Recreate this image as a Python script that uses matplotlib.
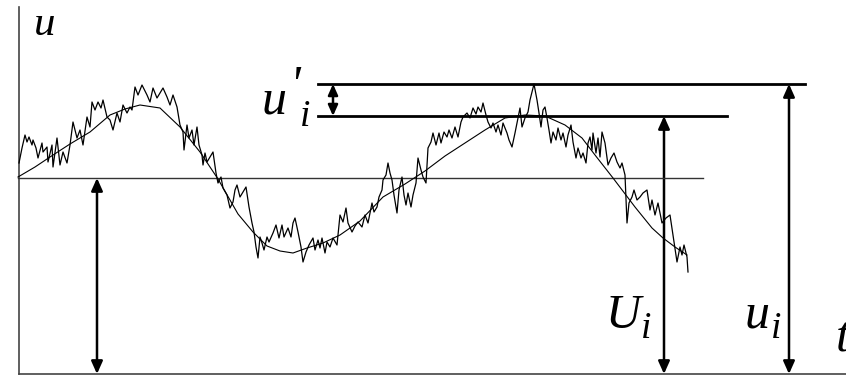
import matplotlib.pyplot as plt
from matplotlib.patches import FancyArrowPatch

# instantaneous velocity u(t) (screen units, y grows downward)
t_inst = [19, 22, 25, 27, 29, 32, 33, 36, 38, 42, 43, 47, 48, 52, 53, 57, 60, 63, 67, 70,
          73, 77, 80, 83, 87, 90, 92, 95, 98, 101, 103, 107, 110, 113, 117, 120, 123, 127, 130, 132,
          135, 138, 142, 147, 150, 153, 157, 160, 163, 167, 170, 173, 177, 180, 183, 184, 187, 189, 192, 194,
          197, 199, 202, 203, 205, 207, 210, 213, 216, 218, 221, 223, 227, 230, 233, 235, 237, 240, 243, 246,
          249, 252, 254, 256, 258, 260, 262, 264, 267, 269, 273, 276, 279, 282, 284, 288, 291, 293, 295, 298,
          301, 303, 306, 309, 313, 315, 318, 320, 322, 325, 327, 330, 333, 337, 338, 340, 343, 346, 348, 352,
          355, 358, 362, 365, 368, 372, 374, 377, 379, 382, 383, 386, 388, 390, 392, 394, 397, 399, 402, 404,
          406, 408, 411, 413, 416, 418, 421, 423, 426, 428, 431, 433, 436, 439, 441, 444, 447, 449, 452, 455,
          458, 461, 463, 467, 470, 473, 476, 478, 481, 483, 486, 488, 491, 493, 496, 498, 501, 503, 507, 509,
          512, 515, 518, 520, 522, 525, 528, 530, 532, 534, 537, 539, 541, 543, 545, 547, 549, 551, 553, 556,
          558, 561, 563, 566, 568, 571, 573, 576, 578, 581, 583, 586, 588, 590, 592, 593, 596, 598, 600, 602,
          605, 608, 611, 614, 617, 620, 622, 625, 627, 629, 632, 634, 637, 640, 643, 647, 650, 652, 655, 658,
          660, 662, 666, 670, 673, 677, 680, 682, 684, 687, 688]
u_inst = [163, 148, 135, 142, 137, 145, 140, 148, 158, 143, 152, 147, 162, 145, 167, 138, 165, 152, 163, 145,
          122, 138, 130, 145, 117, 127, 102, 110, 102, 108, 100, 117, 120, 130, 113, 122, 105, 113, 107, 110,
          87, 95, 85, 95, 102, 88, 98, 93, 88, 97, 105, 95, 107, 125, 132, 150, 125, 138, 130, 145,
          127, 145, 155, 165, 153, 162, 157, 152, 173, 183, 177, 188, 195, 208, 202, 190, 185, 197, 192, 187,
          207, 223, 232, 247, 258, 237, 243, 250, 237, 242, 233, 225, 238, 225, 237, 228, 237, 223, 218, 232,
          247, 262, 252, 245, 238, 250, 240, 248, 238, 253, 242, 247, 238, 245, 235, 215, 222, 208, 223, 232,
          226, 222, 227, 215, 223, 203, 212, 207, 197, 190, 180, 175, 163, 173, 180, 195, 213, 190, 177, 195,
          205, 193, 207, 195, 183, 158, 170, 177, 183, 148, 142, 133, 145, 133, 143, 132, 137, 130, 138, 127,
          137, 122, 117, 113, 118, 108, 114, 107, 112, 103, 115, 122, 128, 123, 132, 125, 135, 123, 133, 140,
          147, 133, 118, 108, 127, 118, 112, 100, 92, 84, 100, 113, 127, 110, 107, 118, 130, 143, 132, 140,
          128, 140, 133, 147, 135, 125, 142, 158, 148, 158, 153, 163, 143, 137, 150, 133, 153, 138, 157, 132,
          143, 165, 158, 153, 162, 168, 163, 175, 223, 203, 197, 190, 200, 197, 193, 190, 210, 200, 215, 203,
          213, 223, 218, 215, 235, 262, 247, 255, 245, 257, 272]

# averaged velocity U(t)
t_mean = [18, 35, 50, 70, 90, 110, 125, 140, 160, 180, 200, 218, 238, 253, 267, 280, 293, 307, 323, 340,
          360, 383, 405, 425, 445, 465, 485, 505, 525, 545, 565, 582, 595, 613, 635, 652, 663, 675, 687]
u_mean = [177, 167, 157, 144, 132, 115, 109, 105, 108, 127, 152, 179, 214, 232, 246, 251, 253, 248, 243, 235,
          221, 197, 184, 171, 156, 143, 130, 118, 115, 116, 125, 138, 155, 178, 207, 228, 238, 247, 255]

u_zero = 178       # reference level
u_peak = 84        # instantaneous peak u_i
U_peak = 116       # mean value U_i at that instant
u_base = 374       # time axis

fig = plt.figure(figsize=(8.46, 3.77), dpi=100)
ax = fig.add_axes([0, 0, 1, 1])
ax.set_xlim(0, 846)
ax.set_ylim(377, 0)
ax.axis('off')

# axes
ax.plot([19, 19], [7, u_base], color='#444444', lw=1.2)
ax.plot([19, 846], [u_base, u_base], color='#444444', lw=1.2)

ax.plot([18, 703], [u_zero, u_zero], color='#333333', lw=1.0)
ax.plot([318, 805], [u_peak, u_peak], color='black', lw=2.0)
ax.plot([318, 727], [U_peak, U_peak], color='black', lw=2.0)

ax.plot(t_inst, u_inst, color='black', lw=0.9)
ax.plot(t_mean, u_mean, color='black', lw=0.8)


def darrow(x, y0, y1, scale=20):
    a = FancyArrowPatch((x, y0), (x, y1), arrowstyle='<|-|>,head_length=0.38,head_width=0.17',
                        mutation_scale=scale, color='black', lw=1.8, shrinkA=0, shrinkB=0)
    ax.add_patch(a)


darrow(97, u_zero, u_base)
darrow(333, u_peak, U_peak, scale=17)
darrow(664, U_peak, u_base)
darrow(789, u_peak, u_base)

serif = dict(family='Liberation Serif', style='italic', va='baseline', ha='left')
ax.text(34, 35, 'u', fontsize=31, **serif)
ax.text(262, 113, 'u', fontsize=36, **serif)
ax.text(289, 100, "'", fontsize=36, **serif)
ax.text(300, 126, 'i', fontsize=27, **serif)
ax.text(606, 328, 'U', fontsize=35, **serif)
ax.text(641, 338, 'i', fontsize=27, **serif)
ax.text(745, 328, 'u', fontsize=36, **serif)
ax.text(771, 338, 'i', fontsize=27, **serif)
ax.text(836, 352, 't', fontsize=36, **serif)

fig.savefig('out.png', dpi=100)
